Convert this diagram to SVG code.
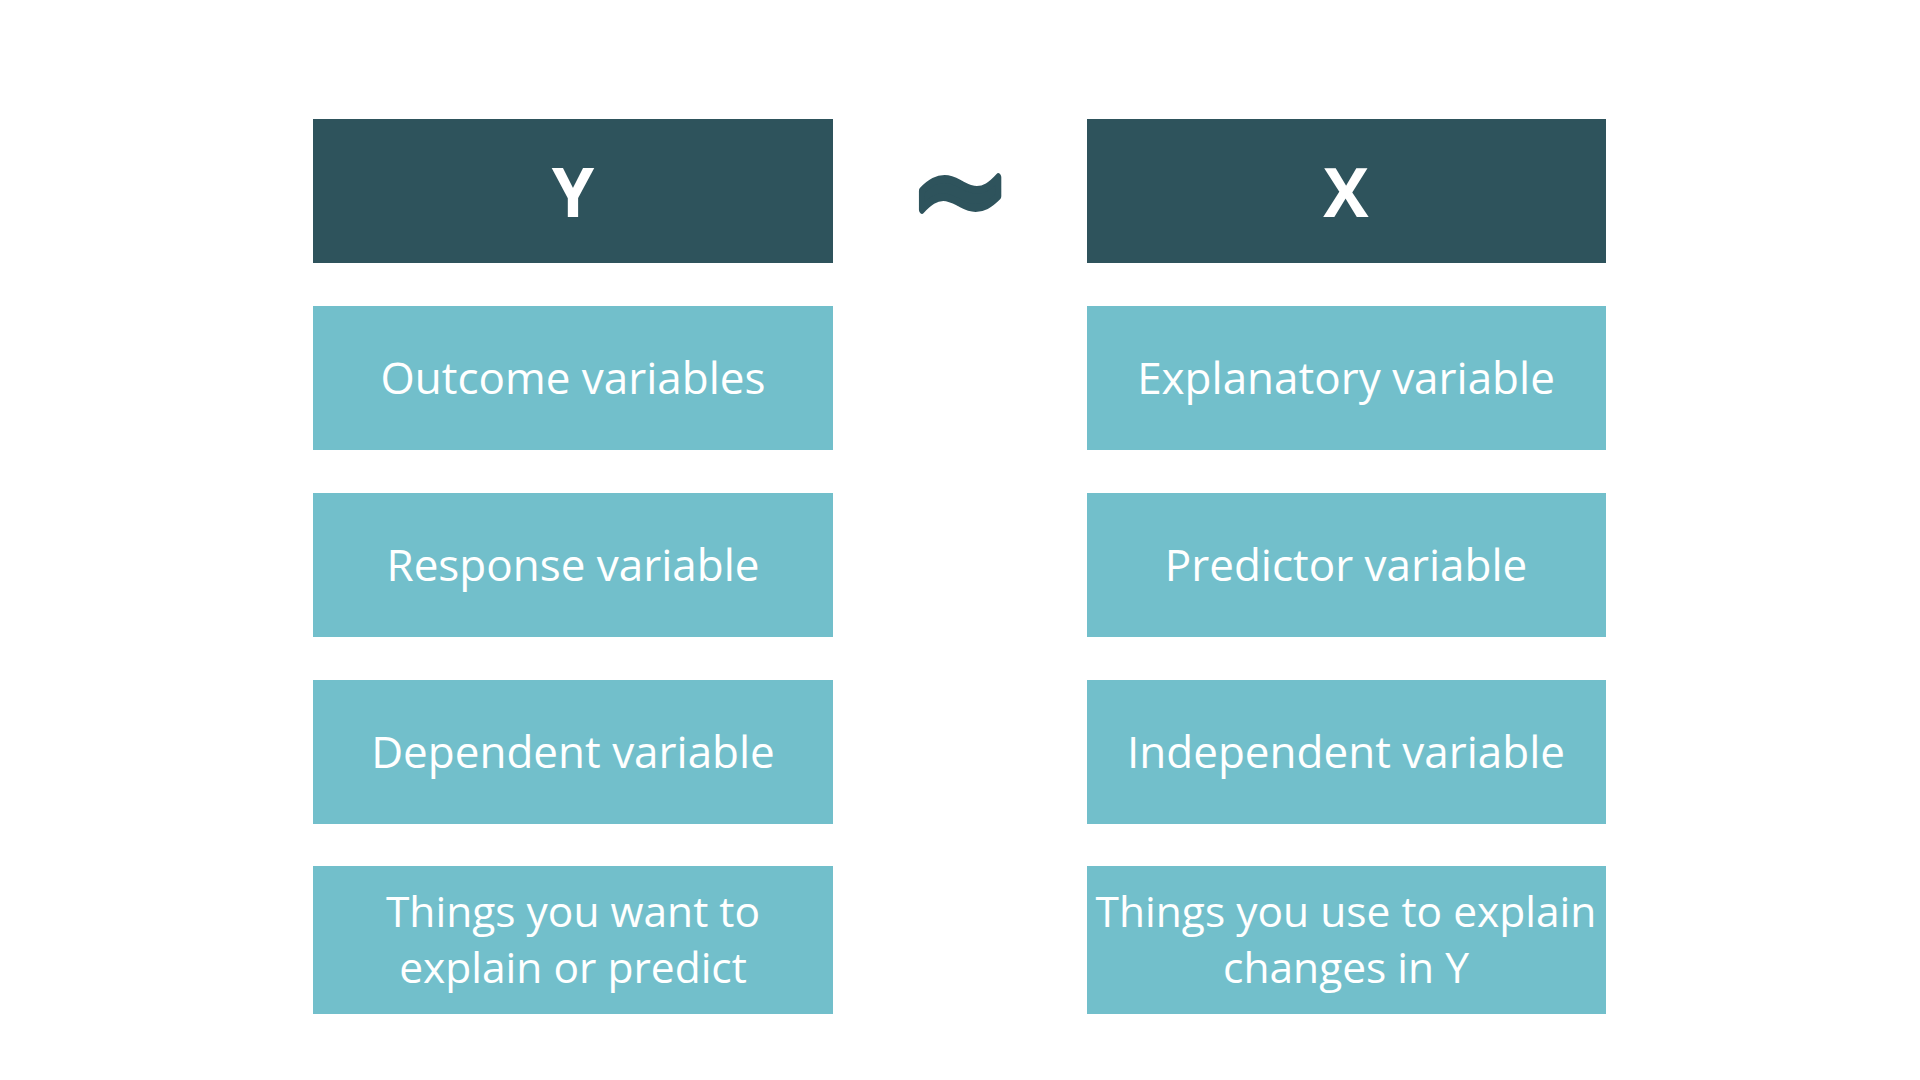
<svg xmlns="http://www.w3.org/2000/svg" width="1920" height="1080" viewBox="0 0 1920 1080">
  <style>
    .head { fill: #2E535C; }
    .cell { fill: #72BFCB; }
    .htxt { font-family: "Open Sans", "Noto Sans", sans-serif; font-weight: 700; font-size: 68px; fill: #FFFFFF; text-anchor: middle; }
    .ctxt { font-family: "Open Sans", "Noto Sans", sans-serif; font-weight: 400; font-size: 44px; fill: #FFFFFF; text-anchor: middle; }
    .ctxt.small { font-size: 42.5px; }
    .tilde { font-family: "DejaVu Sans", sans-serif; font-weight: 700; font-size: 122px; fill: #2E535C; stroke: #2E535C; stroke-width: 6px; stroke-linejoin: round; text-anchor: middle; }
  </style>
  <rect width="1920" height="1080" fill="#FFFFFF"/>

  <!-- Y column -->
  <g id="y-header">
    <rect class="head" x="313" y="119" width="520" height="144"/>
    <text class="htxt" x="573" y="217">Y</text>
  </g>
  <g id="y-outcome">
    <rect class="cell" x="313" y="306" width="520" height="144"/>
    <text class="ctxt" x="573" y="394">Outcome variables</text>
  </g>
  <g id="y-response">
    <rect class="cell" x="313" y="493" width="520" height="144"/>
    <text class="ctxt" x="573" y="581">Response variable</text>
  </g>
  <g id="y-dependent">
    <rect class="cell" x="313" y="680" width="520" height="144"/>
    <text class="ctxt" x="573" y="768">Dependent variable</text>
  </g>
  <g id="y-things">
    <rect class="cell" x="313" y="866" width="520" height="148"/>
    <text class="ctxt small" x="573" y="927">Things you want to</text>
    <text class="ctxt small" x="573" y="983">explain or predict</text>
  </g>

  <!-- relation sign, stretched a little vertically -->
  <g id="tilde" transform="translate(0,191) scale(1,1.3) translate(0,-191)">
    <text class="tilde" x="960" y="231">~</text>
  </g>

  <!-- X column -->
  <g id="x-header">
    <rect class="head" x="1087" y="119" width="519" height="144"/>
    <text class="htxt" x="1346" y="217">X</text>
  </g>
  <g id="x-explanatory">
    <rect class="cell" x="1087" y="306" width="519" height="144"/>
    <text class="ctxt" x="1346" y="394">Explanatory variable</text>
  </g>
  <g id="x-predictor">
    <rect class="cell" x="1087" y="493" width="519" height="144"/>
    <text class="ctxt" x="1346" y="581">Predictor variable</text>
  </g>
  <g id="x-independent">
    <rect class="cell" x="1087" y="680" width="519" height="144"/>
    <text class="ctxt" x="1346" y="768">Independent variable</text>
  </g>
  <g id="x-things">
    <rect class="cell" x="1087" y="866" width="519" height="148"/>
    <text class="ctxt small" x="1346" y="927">Things you use to explain</text>
    <text class="ctxt small" x="1346" y="983">changes in Y</text>
  </g>

  <!-- no connectors in this layout -->
  <g id="connectors"/>
</svg>
